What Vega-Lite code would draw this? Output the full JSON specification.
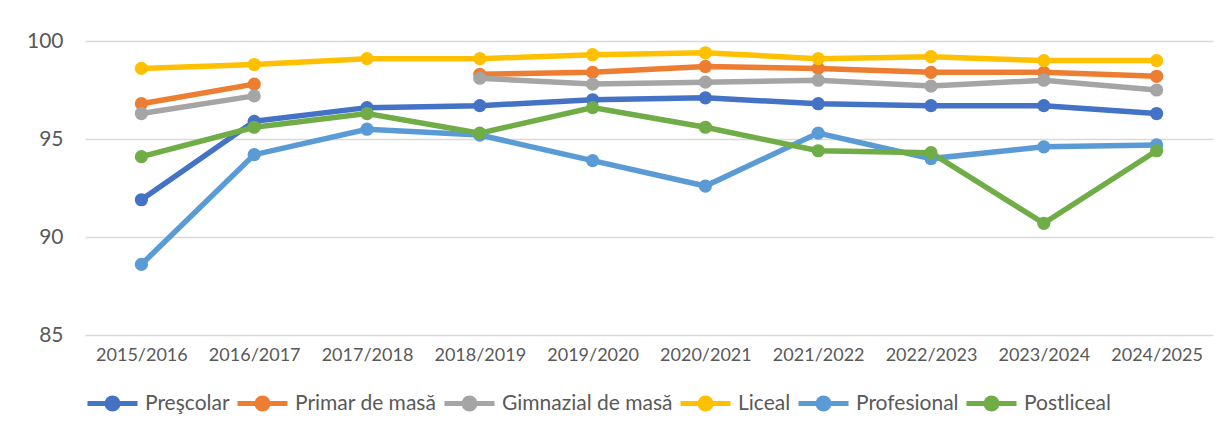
{
  "$schema": "https://vega.github.io/schema/vega-lite/v6.json",
  "width": 1128,
  "height": 294,
  "autosize": "none",
  "padding": {"left": 85, "top": 41, "right": 15, "bottom": 94},
  "background": "white",
  "config": {
    "view": {"stroke": null},
    "font": "Lato"
  },
  "data": {
    "values": [
      {"year": "2015/2016", "series": "Preşcolar", "value": 91.9},
      {"year": "2016/2017", "series": "Preşcolar", "value": 95.9},
      {"year": "2017/2018", "series": "Preşcolar", "value": 96.6},
      {"year": "2018/2019", "series": "Preşcolar", "value": 96.7},
      {"year": "2019/2020", "series": "Preşcolar", "value": 97.0},
      {"year": "2020/2021", "series": "Preşcolar", "value": 97.1},
      {"year": "2021/2022", "series": "Preşcolar", "value": 96.8},
      {"year": "2022/2023", "series": "Preşcolar", "value": 96.7},
      {"year": "2023/2024", "series": "Preşcolar", "value": 96.7},
      {"year": "2024/2025", "series": "Preşcolar", "value": 96.3},
      {"year": "2015/2016", "series": "Primar de masă", "value": 96.8},
      {"year": "2016/2017", "series": "Primar de masă", "value": 97.8},
      {"year": "2017/2018", "series": "Primar de masă", "value": null},
      {"year": "2018/2019", "series": "Primar de masă", "value": 98.3},
      {"year": "2019/2020", "series": "Primar de masă", "value": 98.4},
      {"year": "2020/2021", "series": "Primar de masă", "value": 98.7},
      {"year": "2021/2022", "series": "Primar de masă", "value": 98.6},
      {"year": "2022/2023", "series": "Primar de masă", "value": 98.4},
      {"year": "2023/2024", "series": "Primar de masă", "value": 98.4},
      {"year": "2024/2025", "series": "Primar de masă", "value": 98.2},
      {"year": "2015/2016", "series": "Gimnazial de masă", "value": 96.3},
      {"year": "2016/2017", "series": "Gimnazial de masă", "value": 97.2},
      {"year": "2017/2018", "series": "Gimnazial de masă", "value": null},
      {"year": "2018/2019", "series": "Gimnazial de masă", "value": 98.1},
      {"year": "2019/2020", "series": "Gimnazial de masă", "value": 97.8},
      {"year": "2020/2021", "series": "Gimnazial de masă", "value": 97.9},
      {"year": "2021/2022", "series": "Gimnazial de masă", "value": 98.0},
      {"year": "2022/2023", "series": "Gimnazial de masă", "value": 97.7},
      {"year": "2023/2024", "series": "Gimnazial de masă", "value": 98.0},
      {"year": "2024/2025", "series": "Gimnazial de masă", "value": 97.5},
      {"year": "2015/2016", "series": "Liceal", "value": 98.6},
      {"year": "2016/2017", "series": "Liceal", "value": 98.8},
      {"year": "2017/2018", "series": "Liceal", "value": 99.1},
      {"year": "2018/2019", "series": "Liceal", "value": 99.1},
      {"year": "2019/2020", "series": "Liceal", "value": 99.3},
      {"year": "2020/2021", "series": "Liceal", "value": 99.4},
      {"year": "2021/2022", "series": "Liceal", "value": 99.1},
      {"year": "2022/2023", "series": "Liceal", "value": 99.2},
      {"year": "2023/2024", "series": "Liceal", "value": 99.0},
      {"year": "2024/2025", "series": "Liceal", "value": 99.0},
      {"year": "2015/2016", "series": "Profesional", "value": 88.6},
      {"year": "2016/2017", "series": "Profesional", "value": 94.2},
      {"year": "2017/2018", "series": "Profesional", "value": 95.5},
      {"year": "2018/2019", "series": "Profesional", "value": 95.2},
      {"year": "2019/2020", "series": "Profesional", "value": 93.9},
      {"year": "2020/2021", "series": "Profesional", "value": 92.6},
      {"year": "2021/2022", "series": "Profesional", "value": 95.3},
      {"year": "2022/2023", "series": "Profesional", "value": 94.0},
      {"year": "2023/2024", "series": "Profesional", "value": 94.6},
      {"year": "2024/2025", "series": "Profesional", "value": 94.7},
      {"year": "2015/2016", "series": "Postliceal", "value": 94.1},
      {"year": "2016/2017", "series": "Postliceal", "value": 95.6},
      {"year": "2017/2018", "series": "Postliceal", "value": 96.3},
      {"year": "2018/2019", "series": "Postliceal", "value": 95.3},
      {"year": "2019/2020", "series": "Postliceal", "value": 96.6},
      {"year": "2020/2021", "series": "Postliceal", "value": 95.6},
      {"year": "2021/2022", "series": "Postliceal", "value": 94.4},
      {"year": "2022/2023", "series": "Postliceal", "value": 94.3},
      {"year": "2023/2024", "series": "Postliceal", "value": 90.7},
      {"year": "2024/2025", "series": "Postliceal", "value": 94.4}
    ]
  },
  "mark": {
    "type": "line",
    "strokeWidth": 5.5,
    "point": {"filled": true, "size": 175, "opacity": 1}
  },
  "encoding": {
    "x": {
      "field": "year",
      "type": "ordinal",
      "sort": null,
      "title": null,
      "scale": {"paddingInner": 0, "paddingOuter": 0.5},
      "axis": {
        "labelAngle": 0,
        "labelFontSize": 18,
        "labelColor": "#595959",
        "labelPadding": 11,
        "ticks": false,
        "domain": false,
        "grid": false
      }
    },
    "y": {
      "field": "value",
      "type": "quantitative",
      "title": null,
      "scale": {"domain": [85, 100], "nice": false, "zero": false},
      "axis": {
        "values": [85, 90, 95, 100],
        "labelFontSize": 21,
        "labelColor": "#595959",
        "labelPadding": 22,
        "ticks": false,
        "domain": false,
        "grid": true,
        "gridColor": "#D9D9D9",
        "gridWidth": 1.5
      }
    },
    "color": {
      "field": "series",
      "type": "nominal",
      "sort": null,
      "scale": {
        "domain": ["Preşcolar", "Primar de masă", "Gimnazial de masă", "Liceal", "Profesional", "Postliceal"],
        "range": ["#4472C4", "#ED7D31", "#A5A5A5", "#FFC000", "#5B9BD5", "#70AD47"]
      },
      "legend": {
        "title": null,
        "orient": "none",
        "direction": "horizontal",
        "columns": 6,
        "legendX": 0,
        "legendY": 335,
        "labelFontSize": 21,
        "labelColor": "#595959",
        "labelOffset": 5,
        "labelLimit": 0,
        "columnPadding": -3,
        "symbolType": "M-1,0H1M0.22,0A0.22,0.22,0,1,1,-0.22,0A0.22,0.22,0,1,1,0.22,0Z",
        "symbolSize": 2500,
        "symbolStrokeWidth": 5,
        "encode": {
          "symbols": {
            "update": {
              "fill": {"scale": "color", "field": "value"},
              "stroke": {"scale": "color", "field": "value"},
              "strokeWidth": {"value": 5},
              "opacity": {"value": 1}
            }
          }
        }
      }
    }
  }
}
